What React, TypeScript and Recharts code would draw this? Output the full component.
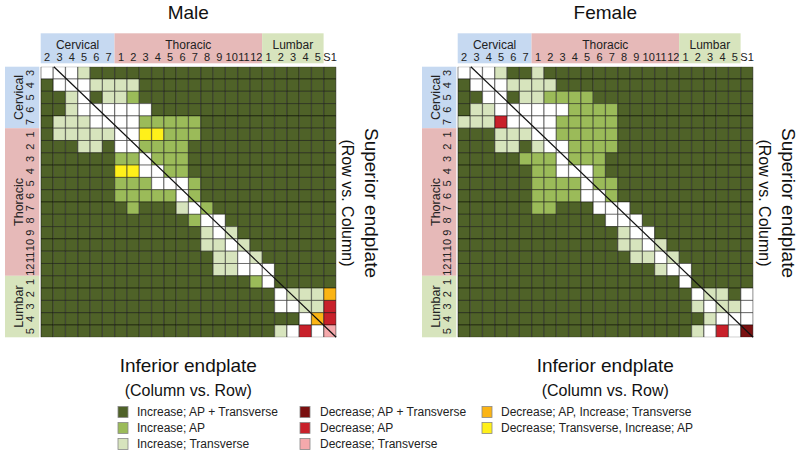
import React from 'react';
import { ComposedChart, Bar, Cell, XAxis, YAxis, ReferenceLine } from 'recharts';

// column = inferior endplate, row = superior endplate
const colLabels = ['2', '3', '4', '5', '6', '7', '1', '2', '3', '4', '5', '6', '7', '8', '9', '10', '11', '12', '1', '2', '3', '4', '5', 'S1'];
const rowLabels = ['3', '4', '5', '6', '7', '1', '2', '3', '4', '5', '6', '7', '8', '9', '10', '11', '12', '1', '2', '3', '4', '5'];
const groupNames = ['Cervical', 'Thoracic', 'Lumbar'];
const colGroupSizes = [6, 12, 5];
const rowGroupSizes = [5, 12, 5];

// D inc AP+T, M inc AP, L inc T, K dec AP+T, R dec AP, P dec T, O dec AP/inc T, Y dec T/inc AP, W n.s.
const categoryCodes = ['D', 'M', 'L', 'K', 'R', 'P', 'O', 'Y'];
const categoryNames = [
  'Increase; AP + Transverse',
  'Increase; AP',
  'Increase; Transverse',
  'Decrease; AP + Transverse',
  'Decrease; AP',
  'Decrease; Transverse',
  'Decrease; AP, Increase; Transverse',
  'Decrease; Transverse, Increase; AP',
];
const legendColumns = [['D', 'M', 'L'], ['K', 'R', 'P'], ['O', 'Y']];

const maleRows = [
  'WWWLDD DDDDDD DDDDDD DDDDDD',
  'DWWWLL LLDDDD DDDDDD DDDDDD',
  'DDLWDL LMDDDD DDDDDD DDDDDD',
  'DDLWWW WWWDDD DDDDDD DDDDDD',
  'DLLLWW WWMMMM MDDDDD DDDDDD',
  'DLLLLL WWYYMM MDDDDD DDDDDD',
  'DDDLLD WWMMMM DDDDDD DDDDDD',
  'DDDDDD MMWMMM DDDDDD DDDDDD',
  'DDDDDD YYWWMM DDDDDD DDDDDD',
  'DDDDDD MMMWWW MDDDDD DDDDDD',
  'DDDDDD MMMMMW MDDDDD DDDDDD',
  'DDDDDD DMDDDL WMDDDD DDDDDD',
  'DDDDDD DDDDDD MWWDDD DDDDDD',
  'DDDDDD DDDDDD DLWLDD DDDDDD',
  'DDDDDD DDDDDD DLLWLD DDDDDD',
  'DDDDDD DDDDDD DDLLWL DDDDDD',
  'DDDDDD DDDDDD DDLLWW WDDDDD',
  'DDDDDD DDDDDD DDDDDM WDDDDD',
  'DDDDDD DDDDDD DDDDDD DWLLLO',
  'DDDDDD DDDDDD DDDDDD DWWLLR',
  'DDDDDD DDDDDD DDDDDD DDDWOR',
  'DDDDDD DDDDDD DDDDDD DLWRWP',
];

const femaleRows = [
  'WWWLDD LDDDDD DDDDDD DDDDDD',
  'DWWWLL LLDDDD DDDDDD DDDDDD',
  'DDWWDL LMMMMD DDDDDD DDDDDD',
  'DLLWWW WWWMMM MDDDDD DDDDDD',
  'LLLRWW WWMMMM MDDDDD DDDDDD',
  'DDDLLL WWMMMM MDDDDD DDDDDD',
  'DDDLLD LWWMMM MDDDDD DDDDDD',
  'DDDDDM MMWMMM DDDDDD DDDDDD',
  'DDDDDD MMWWWM DDDDDD DDDDDD',
  'DDDDDD MMMMWM MDDDDD DDDDDD',
  'DDDDDD MMMMWW MDDDDD DDDDDD',
  'DDDDDD MMDDDW WWDDDD DDDDDD',
  'DDDDDD DDDDDD WWWDDD DDDDDD',
  'DDDDDD DDDDDD DLWWDD DDDDDD',
  'DDDDDD DDDDDD DLLWLD DDDDDD',
  'DDDDDD DDDDDD DDLLWL DDDDDD',
  'DDDDDD DDDDDD DDDDLW WDDDDD',
  'DDDDDD DDDDDD DDDDDD WDDDDD',
  'DDDDDD DDDDDD DDDDDD DWLLDW',
  'DDDDDD DDDDDD DDDDDD DLWLLW',
  'DDDDDD DDDDDD DDDDDD DDLWWW',
  'DDDDDD DDDDDD DDDDDD DLWRWK',
];

const palette: Record<string, string> = {
  D: '#4f6228',
  M: '#9bbb59',
  L: '#d7e4bd',
  K: '#7a1010',
  R: '#c8202a',
  P: '#f5a9ac',
  O: '#fbb414',
  Y: '#fff01a',
  W: '#ffffff',
};
const groupColors = ['#c6d9f1', '#e6b9b8', '#d7e4bd'];

const FONT = 'Arial, "Liberation Sans", Helvetica, sans-serif';
const CELL = 12.3;
const GRID_TOP = 66.7;
const GRID_W = colLabels.length * CELL;
const GRID_H = rowLabels.length * CELL;

const rowKeys = rowLabels.map((_, i) => 'r' + i);
const chartData = colLabels.map((_, ci) => {
  const o: Record<string, number> = { idx: ci };
  rowKeys.forEach((k) => (o[k] = 1));
  return o;
});
const rowTicks = rowLabels.map((_, i) => i + 0.5);

function ColTick({ x, y, payload }: any) {
  return (
    <text x={x} y={y - 6} textAnchor="middle" fontSize={11} fill="#222" fontFamily={FONT}>
      {colLabels[payload.value]}
    </text>
  );
}

function RowTick({ x, y, payload }: any) {
  const tx = x - 10.7;
  return (
    <text
      x={tx}
      y={y}
      transform={`rotate(-90 ${tx} ${y})`}
      textAnchor="middle"
      dominantBaseline="central"
      fontSize={11}
      fill="#222"
      fontFamily={FONT}
    >
      {rowLabels[Math.floor(payload.value)]}
    </text>
  );
}

function parseRows(rows: string[]) {
  return rows.map((r) => r.replace(/ /g, ''));
}

function Grid({ rows, gridLeft }: { rows: string[]; gridLeft: number }) {
  const m = parseRows(rows);
  const w = 40 + GRID_W + 10;
  const h = GRID_TOP + GRID_H + 10;
  return (
    <div style={{ position: 'absolute', left: gridLeft - 40, top: 0 }}>
      <ComposedChart
        width={w}
        height={h}
        data={chartData}
        margin={{ top: GRID_TOP - 30, left: 20, right: 10, bottom: 10 }}
        barCategoryGap={0}
        barGap={0}
      >
        <XAxis
          xAxisId="cat"
          dataKey="idx"
          type="category"
          orientation="top"
          height={30}
          interval={0}
          tickLine={false}
          axisLine={false}
          tickSize={0}
          tickMargin={0}
          tick={<ColTick />}
        />
        <XAxis xAxisId="num" type="number" domain={[0, colLabels.length]} allowDataOverflow hide />
        <YAxis
          type="number"
          domain={[0, rowLabels.length]}
          reversed
          allowDataOverflow
          ticks={rowTicks}
          interval={0}
          width={20}
          tickLine={false}
          axisLine={false}
          tickSize={0}
          tickMargin={0}
          tick={<RowTick />}
        />
        {rowKeys.map((k, ri) => (
          <Bar key={k} dataKey={k} xAxisId="cat" stackId="s" isAnimationActive={false}>
            {colLabels.map((_, ci) => (
              <Cell
                key={ci}
                fill={palette[m[ri][ci]]}
                stroke="rgba(0,0,0,0.45)"
                strokeWidth={1}
              />
            ))}
          </Bar>
        ))}
        <ReferenceLine
          xAxisId="num"
          segment={[
            { x: 1, y: 0 },
            { x: colLabels.length - 1, y: rowLabels.length },
          ]}
          stroke="#111"
          strokeWidth={1.2}
          ifOverflow="visible"
        />
      </ComposedChart>
    </div>
  );
}

function PanelFrame({ title, gridLeft }: { title: string; gridLeft: number }) {
  const cx = gridLeft + GRID_W / 2;
  const right = gridLeft + GRID_W;
  const midY = 203;
  let cStart = 0;
  let rStart = 0;
  return (
    <g fontFamily={FONT}>
      <text x={cx} y={19} textAnchor="middle" fontSize={19} fill="#111">
        {title}
      </text>
      {groupNames.map((g, gi) => {
        const x0 = gridLeft + cStart * CELL;
        const wd = colGroupSizes[gi] * CELL;
        cStart += colGroupSizes[gi];
        return (
          <g key={'c' + g}>
            <rect x={x0} y={33.3} width={wd} height={30} fill={groupColors[gi]} />
            <text x={x0 + wd / 2} y={49} textAnchor="middle" fontSize={12} fill="#222">
              {g}
            </text>
          </g>
        );
      })}
      {groupNames.map((g, gi) => {
        const y0 = GRID_TOP + rStart * CELL;
        const ht = rowGroupSizes[gi] * CELL;
        rStart += rowGroupSizes[gi];
        const tx = gridLeft - 21.9;
        const ty = y0 + ht / 2;
        return (
          <g key={'r' + g}>
            <rect x={gridLeft - 35.7} y={y0} width={34.3} height={ht} fill={groupColors[gi]} />
            <text
              x={tx}
              y={ty}
              transform={`rotate(-90 ${tx} ${ty})`}
              textAnchor="middle"
              dominantBaseline="central"
              fontSize={12.5}
              fill="#222"
            >
              {g}
            </text>
          </g>
        );
      })}
      <text
        x={right + 36}
        y={midY}
        transform={`rotate(90 ${right + 36} ${midY})`}
        textAnchor="middle"
        dominantBaseline="central"
        fontSize={19}
        fill="#111"
      >
        Superior endplate
      </text>
      <text
        x={right + 12}
        y={midY}
        transform={`rotate(90 ${right + 12} ${midY})`}
        textAnchor="middle"
        dominantBaseline="central"
        fontSize={16}
        fill="#111"
      >
        (Row vs. Column)
      </text>
      <text x={cx} y={372} textAnchor="middle" fontSize={19} fill="#111">
        Inferior endplate
      </text>
      <text x={cx} y={396} textAnchor="middle" fontSize={16} fill="#111">
        (Column vs. Row)
      </text>
    </g>
  );
}

function Legend() {
  const swatchX = [118, 300, 482];
  const textX = [137, 320, 501];
  const rowY = [412, 428, 444];
  return (
    <g fontFamily={FONT}>
      {legendColumns.map((col, c) =>
        col.map((code, r) => (
          <g key={code}>
            <rect
              x={swatchX[c]}
              y={rowY[r] - 5.5}
              width={10}
              height={11}
              fill={palette[code]}
              stroke="#888"
              strokeWidth={0.8}
            />
            <text x={textX[c]} y={rowY[r]} dominantBaseline="central" fontSize={12} fill="#222">
              {categoryNames[categoryCodes.indexOf(code)]}
            </text>
          </g>
        ))
      )}
    </g>
  );
}

export default function App() {
  const lefts = [40.7, 457.7];
  return (
    <div style={{ position: 'absolute', left: 0, top: 0, width: 800, height: 452, background: '#fff' }}>
      <svg width={800} height={452} style={{ position: 'absolute', left: 0, top: 0 }}>
        <PanelFrame title="Male" gridLeft={lefts[0]} />
        <PanelFrame title="Female" gridLeft={lefts[1]} />
        <Legend />
      </svg>
      <Grid rows={maleRows} gridLeft={lefts[0]} />
      <Grid rows={femaleRows} gridLeft={lefts[1]} />
    </div>
  );
}
